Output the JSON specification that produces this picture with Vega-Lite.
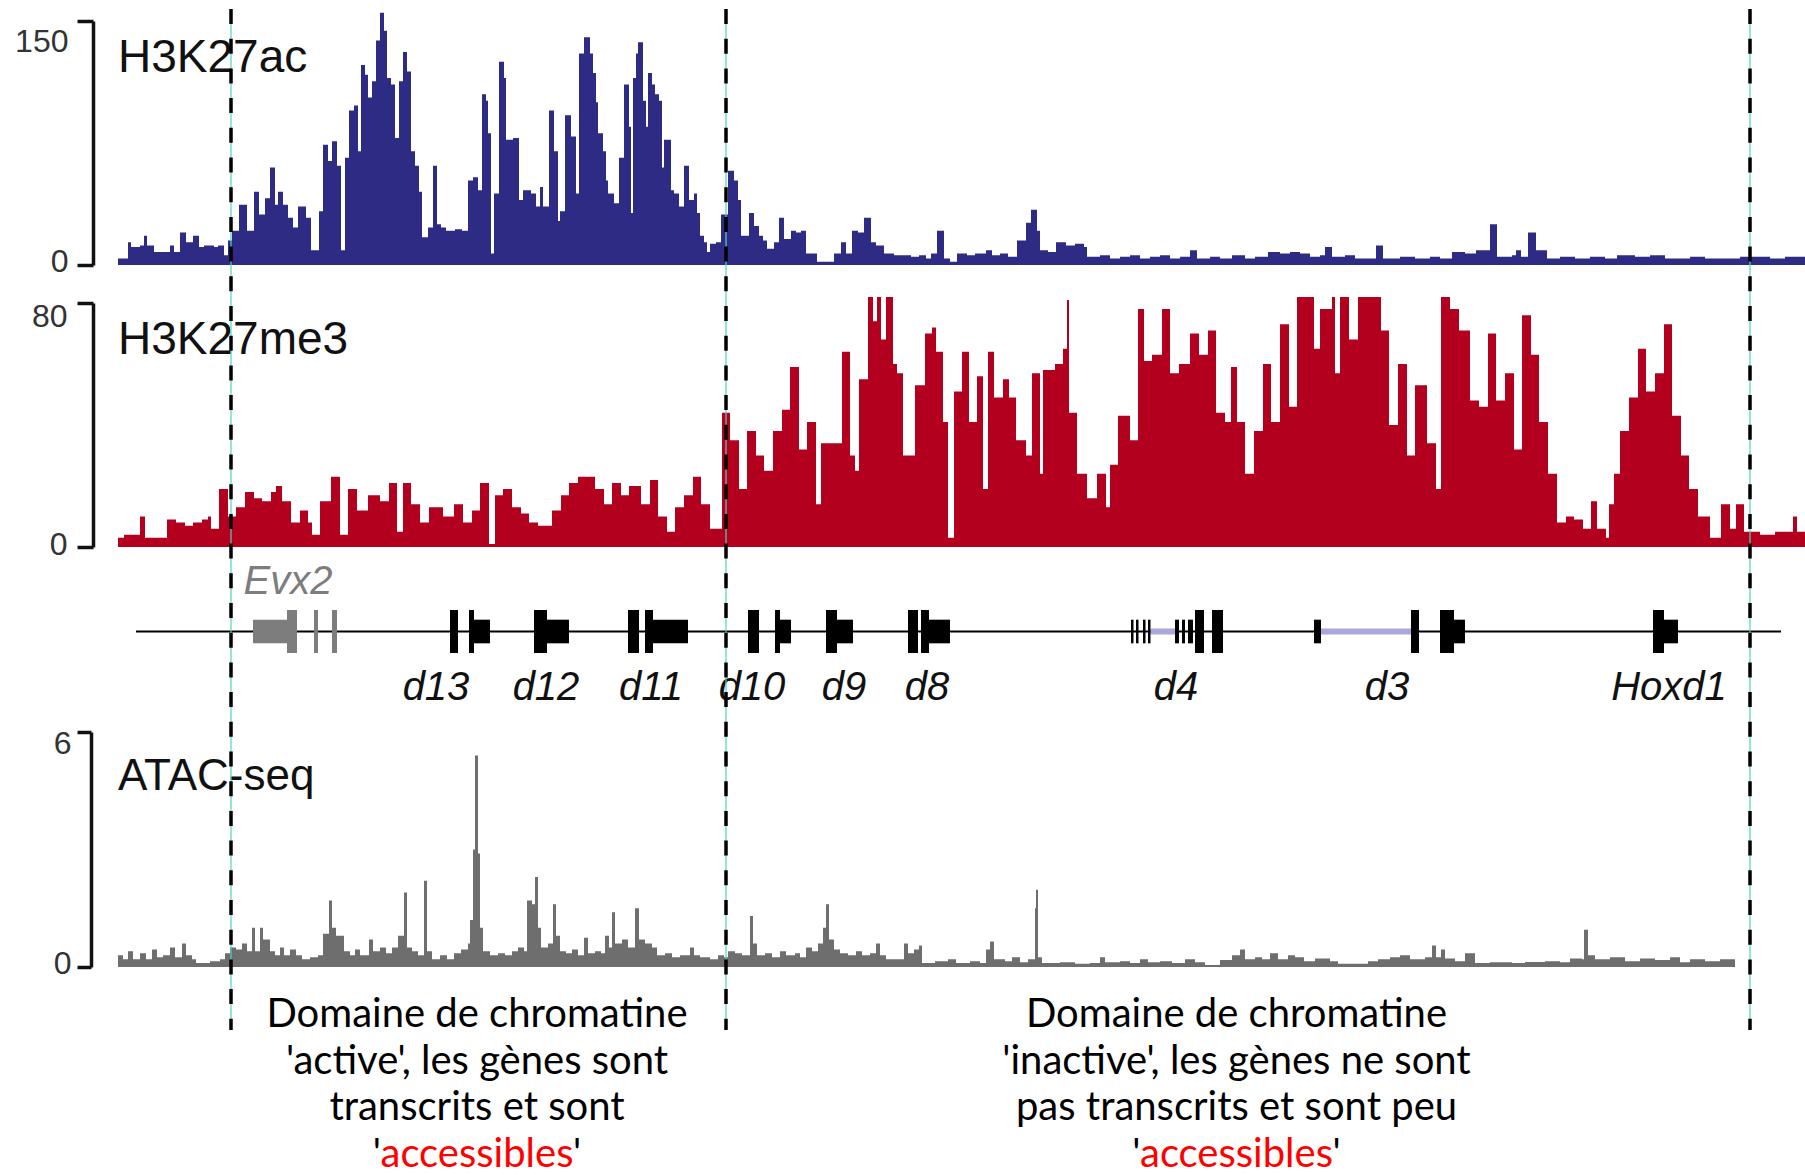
{
"$schema":"https://vega.github.io/schema/vega-lite/v6.json",
"width":1687,"height":1175,
"autosize":{"type":"none"},
"padding":{"left":118,"top":0,"right":0,"bottom":0},
"background":"white",
"config":{"view":{"stroke":null},"axis":{"grid":false}},
"resolve":{"scale":{"y":"independent"},"axis":{"y":"independent"}},
"datasets":{
"ac":[{"x":11.8,"v":4},{"x":12.4,"v":4},{"x":12.8,"v":14},{"x":13.1,"v":11},{"x":13.7,"v":11},{"x":14.0,"v":12},{"x":14.4,"v":18},{"x":14.7,"v":12},{"x":15.4,"v":8},{"x":16.0,"v":8},{"x":16.6,"v":8},{"x":17.0,"v":12},{"x":17.4,"v":8},{"x":18.0,"v":20},{"x":18.6,"v":14},{"x":19.3,"v":18},{"x":19.9,"v":11},{"x":20.4,"v":12},{"x":21.0,"v":12},{"x":21.4,"v":11},{"x":21.8,"v":12},{"x":22.4,"v":6},{"x":22.8,"v":15},{"x":23.2,"v":21},{"x":23.9,"v":37},{"x":24.7,"v":21},{"x":25.4,"v":45},{"x":25.9,"v":31},{"x":26.5,"v":41},{"x":27.0,"v":60},{"x":27.5,"v":37},{"x":27.8,"v":45},{"x":28.3,"v":37},{"x":28.8,"v":29},{"x":29.3,"v":23},{"x":29.8,"v":36},{"x":30.6,"v":29},{"x":31.1,"v":9},{"x":31.9,"v":33},{"x":32.3,"v":74},{"x":32.8,"v":64},{"x":33.2,"v":76},{"x":33.7,"v":61},{"x":34.1,"v":9},{"x":34.5,"v":66},{"x":34.9,"v":95},{"x":35.4,"v":98},{"x":35.8,"v":70},{"x":36.1,"v":123},{"x":36.5,"v":117},{"x":36.8,"v":103},{"x":37.2,"v":113},{"x":37.6,"v":138},{"x":38.0,"v":155},{"x":38.4,"v":144},{"x":38.7,"v":115},{"x":39.1,"v":111},{"x":39.5,"v":78},{"x":39.9,"v":113},{"x":40.3,"v":131},{"x":40.7,"v":119},{"x":41.1,"v":70},{"x":41.5,"v":61},{"x":41.9,"v":45},{"x":42.2,"v":17},{"x":42.8,"v":23},{"x":43.3,"v":61},{"x":43.7,"v":25},{"x":44.1,"v":23},{"x":44.6,"v":21},{"x":45.5,"v":22},{"x":46.2,"v":21},{"x":46.8,"v":52},{"x":47.3,"v":54},{"x":47.8,"v":46},{"x":48.2,"v":105},{"x":48.6,"v":101},{"x":48.8,"v":81},{"x":49.1,"v":7},{"x":49.4,"v":44},{"x":49.9,"v":125},{"x":50.4,"v":115},{"x":50.6,"v":77},{"x":51.3,"v":78},{"x":51.9,"v":40},{"x":52.3,"v":46},{"x":53.1,"v":44},{"x":53.6,"v":36},{"x":54.0,"v":48},{"x":54.3,"v":36},{"x":54.9,"v":95},{"x":55.4,"v":70},{"x":55.8,"v":27},{"x":56.0,"v":33},{"x":56.5,"v":92},{"x":57.1,"v":79},{"x":57.6,"v":44},{"x":57.9,"v":130},{"x":58.4,"v":140},{"x":59.0,"v":130},{"x":59.3,"v":118},{"x":59.6,"v":100},{"x":59.8,"v":81},{"x":60.3,"v":70},{"x":60.6,"v":52},{"x":60.8,"v":44},{"x":61.4,"v":38},{"x":61.9,"v":66},{"x":62.4,"v":111},{"x":62.9,"v":85},{"x":63.1,"v":32},{"x":63.3,"v":115},{"x":63.6,"v":130},{"x":63.8,"v":137},{"x":64.3,"v":101},{"x":64.6,"v":85},{"x":64.8,"v":118},{"x":65.2,"v":111},{"x":65.5,"v":105},{"x":65.9,"v":101},{"x":66.2,"v":60},{"x":66.4,"v":77},{"x":67.1,"v":46},{"x":67.4,"v":44},{"x":67.9,"v":36},{"x":68.4,"v":61},{"x":68.9,"v":40},{"x":69.4,"v":44},{"x":69.7,"v":32},{"x":70.0,"v":18},{"x":70.4,"v":14},{"x":70.7,"v":8},{"x":71.0,"v":13},{"x":71.6,"v":14},{"x":72.1,"v":31},{"x":72.8,"v":58},{"x":73.4,"v":52},{"x":73.8,"v":40},{"x":74.1,"v":18},{"x":74.9,"v":32},{"x":75.4,"v":24},{"x":75.9,"v":18},{"x":76.3,"v":15},{"x":76.7,"v":10},{"x":77.4,"v":14},{"x":77.9,"v":29},{"x":78.4,"v":16},{"x":79.1,"v":21},{"x":79.6,"v":20},{"x":80.1,"v":21},{"x":80.6,"v":7},{"x":81.7,"v":2},{"x":83.4,"v":7},{"x":84.1,"v":14},{"x":84.6,"v":7},{"x":85.2,"v":21},{"x":85.8,"v":20},{"x":86.4,"v":29},{"x":87.1,"v":14},{"x":87.6,"v":12},{"x":88.4,"v":7},{"x":89.4,"v":6},{"x":90.1,"v":6},{"x":91.1,"v":5},{"x":91.9,"v":6},{"x":92.6,"v":4},{"x":93.1,"v":7},{"x":93.7,"v":21},{"x":94.4,"v":4},{"x":95.0,"v":2},{"x":95.7,"v":7},{"x":96.7,"v":6},{"x":97.5,"v":7},{"x":98.6,"v":9},{"x":99.2,"v":6},{"x":100.0,"v":7},{"x":100.8,"v":5},{"x":101.7,"v":15},{"x":102.6,"v":26},{"x":103.1,"v":34},{"x":103.7,"v":21},{"x":104.0,"v":9},{"x":104.8,"v":8},{"x":105.6,"v":14},{"x":106.6,"v":12},{"x":107.5,"v":13},{"x":108.4,"v":11},{"x":108.7,"v":5},{"x":110.0,"v":6},{"x":111.0,"v":4},{"x":112.0,"v":5},{"x":113.0,"v":6},{"x":114.0,"v":4},{"x":115.0,"v":5},{"x":116.0,"v":6},{"x":117.0,"v":4},{"x":118.0,"v":5},{"x":119.0,"v":9},{"x":119.7,"v":4},{"x":121.0,"v":5},{"x":122.0,"v":4},{"x":123.2,"v":6},{"x":124.5,"v":4},{"x":125.5,"v":5},{"x":126.8,"v":8},{"x":128.0,"v":7},{"x":129.0,"v":8},{"x":130.0,"v":7},{"x":131.0,"v":5},{"x":132.0,"v":6},{"x":132.5,"v":11},{"x":133.2,"v":5},{"x":134.5,"v":6},{"x":135.5,"v":4},{"x":137.6,"v":12},{"x":138.3,"v":4},{"x":140.0,"v":5},{"x":141.5,"v":4},{"x":143.0,"v":5},{"x":144.0,"v":4},{"x":145.2,"v":8},{"x":146.5,"v":7},{"x":147.6,"v":9},{"x":149.0,"v":25},{"x":149.7,"v":5},{"x":151.2,"v":6},{"x":151.6,"v":9},{"x":152.1,"v":5},{"x":152.8,"v":20},{"x":153.6,"v":9},{"x":154.7,"v":4},{"x":156.0,"v":5},{"x":157.5,"v":4},{"x":159.0,"v":5},{"x":160.5,"v":4},{"x":161.7,"v":6},{"x":163.5,"v":5},{"x":165.0,"v":6},{"x":166.5,"v":4},{"x":169.0,"v":5},{"x":170.5,"v":4},{"x":172.5,"v":4},{"x":174.0,"v":5},{"x":175.5,"v":5},{"x":177.0,"v":4},{"x":178.5,"v":5},{"x":180.0,"v":5},{"x":180.5,"v":5}],
"me3":[{"x":11.8,"v":3},{"x":12.4,"v":4},{"x":14.0,"v":10},{"x":14.5,"v":3},{"x":15.8,"v":3},{"x":16.7,"v":9},{"x":17.6,"v":8},{"x":18.5,"v":7},{"x":19.3,"v":8},{"x":20.2,"v":9},{"x":20.8,"v":10},{"x":21.1,"v":6},{"x":21.9,"v":19},{"x":22.8,"v":10},{"x":23.6,"v":13},{"x":24.5,"v":18},{"x":25.4,"v":16},{"x":26.2,"v":15},{"x":27.1,"v":18},{"x":27.6,"v":20},{"x":28.2,"v":15},{"x":29.1,"v":8},{"x":30.0,"v":12},{"x":30.8,"v":8},{"x":31.2,"v":4},{"x":32.0,"v":15},{"x":33.1,"v":23},{"x":34.0,"v":4},{"x":34.8,"v":19},{"x":35.7,"v":12},{"x":36.8,"v":17},{"x":38.0,"v":15},{"x":38.9,"v":21},{"x":39.7,"v":5},{"x":40.3,"v":21},{"x":41.1,"v":14},{"x":42.0,"v":8},{"x":42.9,"v":13},{"x":44.3,"v":10},{"x":45.4,"v":14},{"x":46.3,"v":8},{"x":47.2,"v":12},{"x":48.0,"v":21},{"x":48.9,"v":1},{"x":49.5,"v":17},{"x":50.3,"v":19},{"x":51.2,"v":13},{"x":52.1,"v":11},{"x":52.9,"v":8},{"x":53.8,"v":7},{"x":55.2,"v":12},{"x":56.1,"v":17},{"x":56.9,"v":21},{"x":57.8,"v":23},{"x":59.5,"v":19},{"x":60.4,"v":14},{"x":61.2,"v":21},{"x":62.1,"v":17},{"x":62.9,"v":20},{"x":64.1,"v":14},{"x":65.0,"v":22},{"x":65.8,"v":10},{"x":66.7,"v":5},{"x":67.5,"v":13},{"x":68.4,"v":17},{"x":69.3,"v":23},{"x":70.1,"v":14},{"x":71.0,"v":6},{"x":72.2,"v":44},{"x":73.0,"v":35},{"x":73.9,"v":19},{"x":74.7,"v":38},{"x":75.6,"v":30},{"x":76.4,"v":25},{"x":77.3,"v":38},{"x":78.2,"v":45},{"x":79.0,"v":59},{"x":79.9,"v":32},{"x":80.7,"v":41},{"x":81.6,"v":14},{"x":82.1,"v":34},{"x":84.2,"v":64},{"x":85.0,"v":30},{"x":85.5,"v":25},{"x":85.9,"v":55},{"x":86.8,"v":82},{"x":87.3,"v":74},{"x":87.7,"v":82},{"x":88.1,"v":68},{"x":88.6,"v":82},{"x":89.3,"v":60},{"x":89.7,"v":57},{"x":90.0,"v":57},{"x":90.3,"v":30},{"x":91.5,"v":53},{"x":92.5,"v":70},{"x":93.2,"v":72},{"x":93.6,"v":64},{"x":94.3,"v":41},{"x":94.8,"v":3},{"x":95.4,"v":51},{"x":96.2,"v":64},{"x":96.9,"v":41},{"x":97.7,"v":56},{"x":98.3,"v":19},{"x":98.8,"v":64},{"x":99.4,"v":49},{"x":100.3,"v":55},{"x":100.9,"v":49},{"x":101.6,"v":35},{"x":102.6,"v":30},{"x":103.2,"v":57},{"x":104.0,"v":24},{"x":104.3,"v":58},{"x":105.5,"v":60},{"x":106.3,"v":65},{"x":106.7,"v":81},{"x":106.9,"v":44},{"x":107.7,"v":24},{"x":108.7,"v":16},{"x":109.7,"v":24},{"x":110.6,"v":13},{"x":111.0,"v":27},{"x":111.8,"v":43},{"x":113.0,"v":35},{"x":113.8,"v":78},{"x":114.4,"v":61},{"x":115.2,"v":63},{"x":116.2,"v":78},{"x":117.0,"v":57},{"x":117.9,"v":60},{"x":119.0,"v":70},{"x":119.9,"v":63},{"x":120.8,"v":71},{"x":121.6,"v":44},{"x":122.5,"v":41},{"x":123.1,"v":59},{"x":123.7,"v":41},{"x":124.5,"v":24},{"x":125.4,"v":38},{"x":126.3,"v":60},{"x":127.1,"v":41},{"x":128.0,"v":73},{"x":128.9,"v":46},{"x":129.7,"v":82},{"x":131.4,"v":65},{"x":132.0,"v":78},{"x":133.2,"v":82},{"x":133.5,"v":57},{"x":134.0,"v":82},{"x":134.9,"v":68},{"x":135.8,"v":82},{"x":138.1,"v":71},{"x":138.9,"v":40},{"x":139.8,"v":60},{"x":140.7,"v":30},{"x":141.5,"v":53},{"x":142.7,"v":34},{"x":143.6,"v":19},{"x":144.1,"v":82},{"x":145.0,"v":78},{"x":145.9,"v":71},{"x":147.0,"v":48},{"x":147.9,"v":46},{"x":148.8,"v":70},{"x":149.6,"v":48},{"x":150.5,"v":57},{"x":151.4,"v":32},{"x":152.2,"v":76},{"x":153.1,"v":63},{"x":153.9,"v":41},{"x":154.8,"v":24},{"x":155.7,"v":8},{"x":156.6,"v":10},{"x":157.4,"v":9},{"x":158.3,"v":6},{"x":159.1,"v":15},{"x":159.7,"v":6},{"x":160.6,"v":3},{"x":160.9,"v":14},{"x":161.4,"v":24},{"x":162.0,"v":38},{"x":162.9,"v":49},{"x":163.8,"v":65},{"x":164.6,"v":51},{"x":165.5,"v":57},{"x":166.4,"v":73},{"x":167.2,"v":43},{"x":168.1,"v":30},{"x":168.9,"v":19},{"x":169.8,"v":10},{"x":171.0,"v":3},{"x":172.1,"v":14},{"x":173.0,"v":6},{"x":173.6,"v":14},{"x":174.4,"v":5},{"x":176.0,"v":4},{"x":177.5,"v":5},{"x":179.3,"v":10},{"x":179.7,"v":5},{"x":180.5,"v":5}],
"atac":[{"x":11.8,"v":0.3},{"x":12.3,"v":0.2},{"x":12.8,"v":0.4},{"x":13.3,"v":0.2},{"x":14.0,"v":0.35},{"x":14.6,"v":0.2},{"x":15.2,"v":0.45},{"x":15.7,"v":0.25},{"x":16.3,"v":0.3},{"x":17.0,"v":0.5},{"x":17.5,"v":0.25},{"x":18.2,"v":0.6},{"x":18.6,"v":0.3},{"x":19.2,"v":0.2},{"x":19.6,"v":0.1},{"x":21.0,"v":0.15},{"x":22.0,"v":0.2},{"x":22.5,"v":0.35},{"x":23.0,"v":0.5},{"x":23.6,"v":0.45},{"x":24.2,"v":0.6},{"x":24.7,"v":0.4},{"x":25.2,"v":1.0},{"x":25.5,"v":0.4},{"x":26.0,"v":1.0},{"x":26.3,"v":0.7},{"x":27.0,"v":0.4},{"x":27.5,"v":0.3},{"x":28.0,"v":0.5},{"x":28.4,"v":0.3},{"x":29.0,"v":0.45},{"x":29.6,"v":0.3},{"x":30.2,"v":0.2},{"x":31.0,"v":0.25},{"x":31.8,"v":0.3},{"x":32.3,"v":0.85},{"x":32.9,"v":1.7},{"x":33.2,"v":1.0},{"x":33.6,"v":0.8},{"x":34.4,"v":0.4},{"x":35.0,"v":0.3},{"x":35.5,"v":0.45},{"x":36.0,"v":0.3},{"x":36.9,"v":0.7},{"x":37.3,"v":0.4},{"x":38.0,"v":0.5},{"x":38.6,"v":0.35},{"x":39.2,"v":0.5},{"x":39.8,"v":0.8},{"x":40.4,"v":1.9},{"x":40.7,"v":0.5},{"x":41.2,"v":0.4},{"x":41.8,"v":0.3},{"x":42.4,"v":2.2},{"x":42.7,"v":0.4},{"x":43.2,"v":0.2},{"x":44.0,"v":0.3},{"x":44.7,"v":0.2},{"x":45.4,"v":0.35},{"x":46.1,"v":0.45},{"x":46.8,"v":0.6},{"x":47.0,"v":1.2},{"x":47.3,"v":3.0},{"x":47.5,"v":5.4},{"x":47.8,"v":2.9},{"x":48.0,"v":1.0},{"x":48.3,"v":0.4},{"x":49.0,"v":0.3},{"x":49.8,"v":0.35},{"x":50.5,"v":0.3},{"x":51.2,"v":0.4},{"x":51.8,"v":0.5},{"x":52.4,"v":0.4},{"x":52.7,"v":1.7},{"x":53.2,"v":1.6},{"x":53.5,"v":2.3},{"x":53.8,"v":1.0},{"x":54.1,"v":0.5},{"x":54.8,"v":0.6},{"x":55.3,"v":1.6},{"x":55.6,"v":0.8},{"x":56.0,"v":0.4},{"x":56.6,"v":0.35},{"x":57.2,"v":0.45},{"x":57.8,"v":0.3},{"x":58.4,"v":0.75},{"x":58.8,"v":0.35},{"x":59.5,"v":0.4},{"x":60.1,"v":0.35},{"x":60.5,"v":0.8},{"x":60.9,"v":0.5},{"x":61.2,"v":1.4},{"x":61.5,"v":0.6},{"x":62.2,"v":0.7},{"x":62.8,"v":0.5},{"x":63.5,"v":1.5},{"x":63.9,"v":0.7},{"x":64.5,"v":0.6},{"x":65.2,"v":0.5},{"x":65.7,"v":0.3},{"x":66.5,"v":0.35},{"x":67.2,"v":0.25},{"x":68.0,"v":0.3},{"x":69.0,"v":0.5},{"x":69.4,"v":0.3},{"x":70.0,"v":0.25},{"x":71.0,"v":0.2},{"x":71.8,"v":0.3},{"x":72.4,"v":0.25},{"x":72.8,"v":0.4},{"x":73.5,"v":0.35},{"x":74.2,"v":0.3},{"x":75.0,"v":1.3},{"x":75.3,"v":0.6},{"x":75.7,"v":0.3},{"x":76.5,"v":0.35},{"x":77.2,"v":0.25},{"x":78.0,"v":0.4},{"x":78.6,"v":0.3},{"x":79.5,"v":0.35},{"x":80.0,"v":0.25},{"x":80.6,"v":0.5},{"x":81.2,"v":0.4},{"x":81.8,"v":0.6},{"x":82.3,"v":1.0},{"x":82.6,"v":1.6},{"x":82.9,"v":0.7},{"x":83.4,"v":0.45},{"x":84.0,"v":0.35},{"x":84.8,"v":0.3},{"x":85.6,"v":0.4},{"x":86.2,"v":0.3},{"x":87.0,"v":0.35},{"x":87.6,"v":0.6},{"x":88.0,"v":0.3},{"x":88.6,"v":0.2},{"x":89.5,"v":0.2},{"x":90.4,"v":0.6},{"x":90.8,"v":0.35},{"x":91.4,"v":0.45},{"x":91.9,"v":0.55},{"x":92.2,"v":0.1},{"x":93.5,"v":0.15},{"x":94.8,"v":0.2},{"x":95.6,"v":0.1},{"x":97.0,"v":0.15},{"x":98.0,"v":0.1},{"x":98.6,"v":0.45},{"x":99.0,"v":0.65},{"x":99.4,"v":0.2},{"x":100.5,"v":0.15},{"x":101.2,"v":0.25},{"x":102.0,"v":0.12},{"x":102.8,"v":0.2},{"x":103.5,"v":1.5},{"x":103.6,"v":1.97},{"x":103.8,"v":0.25},{"x":104.2,"v":0.1},{"x":106.0,"v":0.12},{"x":107.5,"v":0.08},{"x":109.0,"v":0.1},{"x":110.0,"v":0.25},{"x":110.5,"v":0.12},{"x":112.0,"v":0.15},{"x":113.0,"v":0.1},{"x":114.0,"v":0.2},{"x":114.8,"v":0.12},{"x":116.0,"v":0.15},{"x":117.2,"v":0.1},{"x":118.5,"v":0.2},{"x":119.5,"v":0.12},{"x":120.5,"v":0.05},{"x":122.0,"v":0.18},{"x":123.2,"v":0.3},{"x":124.0,"v":0.45},{"x":124.5,"v":0.2},{"x":125.5,"v":0.25},{"x":126.2,"v":0.2},{"x":127.0,"v":0.35},{"x":127.8,"v":0.2},{"x":128.8,"v":0.3},{"x":129.5,"v":0.25},{"x":130.4,"v":0.15},{"x":131.5,"v":0.22},{"x":133.0,"v":0.15},{"x":133.8,"v":0.08},{"x":136.8,"v":0.15},{"x":137.8,"v":0.2},{"x":139.0,"v":0.25},{"x":140.0,"v":0.3},{"x":141.0,"v":0.2},{"x":142.5,"v":0.25},{"x":143.2,"v":0.55},{"x":143.6,"v":0.25},{"x":144.1,"v":0.45},{"x":144.5,"v":0.22},{"x":145.5,"v":0.15},{"x":146.5,"v":0.35},{"x":147.5,"v":0.1},{"x":149.0,"v":0.12},{"x":151.2,"v":0.1},{"x":152.5,"v":0.13},{"x":154.5,"v":0.15},{"x":156.0,"v":0.12},{"x":157.0,"v":0.22},{"x":158.2,"v":0.2},{"x":158.4,"v":0.95},{"x":158.8,"v":0.3},{"x":159.5,"v":0.2},{"x":161.0,"v":0.25},{"x":162.5,"v":0.15},{"x":164.0,"v":0.22},{"x":165.5,"v":0.18},{"x":167.0,"v":0.25},{"x":168.0,"v":0.12},{"x":169.0,"v":0.2},{"x":170.5,"v":0.15},{"x":172.0,"v":0.2},{"x":173.5,"v":0.15}],
"exons":[
{"gene":"Evx2","s":25.3,"e":28.7,"k":"m"},{"gene":"Evx2","s":28.7,"e":29.7,"k":"t"},{"gene":"Evx2","s":31.4,"e":31.8,"k":"t"},{"gene":"Evx2","s":33.2,"e":33.7,"k":"t"},
{"gene":"d13","s":45.0,"e":45.8,"k":"t"},{"gene":"d13","s":46.9,"e":47.4,"k":"t"},{"gene":"d13","s":47.4,"e":49.0,"k":"m"},
{"gene":"d12","s":53.4,"e":54.7,"k":"t"},{"gene":"d12","s":54.7,"e":56.9,"k":"m"},
{"gene":"d11","s":62.8,"e":63.9,"k":"t"},{"gene":"d11","s":64.5,"e":65.3,"k":"t"},{"gene":"d11","s":65.3,"e":68.8,"k":"m"},
{"gene":"d10","s":74.8,"e":75.9,"k":"t"},{"gene":"d10","s":77.5,"e":78.0,"k":"t"},{"gene":"d10","s":78.0,"e":79.1,"k":"m"},
{"gene":"d9","s":82.6,"e":83.7,"k":"t"},{"gene":"d9","s":83.7,"e":85.3,"k":"m"},
{"gene":"d8","s":90.8,"e":91.8,"k":"t"},{"gene":"d8","s":92.1,"e":92.9,"k":"t"},{"gene":"d8","s":92.9,"e":95.0,"k":"m"},
{"gene":"d4","s":113.1,"e":113.35,"k":"m"},{"gene":"d4","s":113.6,"e":113.85,"k":"m"},{"gene":"d4","s":114.3,"e":114.55,"k":"m"},{"gene":"d4","s":114.8,"e":115.05,"k":"m"},{"gene":"d4","s":115.05,"e":117.5,"k":"i"},{"gene":"d4","s":117.5,"e":117.9,"k":"m"},{"gene":"d4","s":118.2,"e":118.5,"k":"m"},{"gene":"d4","s":118.8,"e":119.3,"k":"m"},{"gene":"d4","s":119.5,"e":120.4,"k":"t"},{"gene":"d4","s":121.2,"e":122.3,"k":"t"},
{"gene":"d3","s":131.4,"e":132.1,"k":"m"},{"gene":"d3","s":132.1,"e":141.1,"k":"i"},{"gene":"d3","s":141.1,"e":141.9,"k":"t"},{"gene":"d3","s":144.0,"e":145.4,"k":"t"},{"gene":"d3","s":145.4,"e":146.5,"k":"m"},
{"gene":"Hoxd1","s":165.3,"e":166.4,"k":"t"},{"gene":"Hoxd1","s":166.4,"e":167.8,"k":"m"}],
"genelabels":[{"gene":"d13","mid":43.6},{"gene":"d12","mid":54.6},{"gene":"d11","mid":65.1},{"gene":"d10","mid":75.2},{"gene":"d9","mid":84.4},{"gene":"d8","mid":92.7},{"gene":"d4","mid":117.6},{"gene":"d3","mid":138.7},{"gene":"Hoxd1","mid":166.9}],
"leftText":[{"line":1,"t":"Domaine de chromatine"},{"line":2,"t":"'active', les gènes sont"},{"line":3,"t":"transcrits et sont"}],
"rightText":[{"line":1,"t":"Domaine de chromatine"},{"line":2,"t":"'inactive', les gènes ne sont"},{"line":3,"t":"pas transcrits et sont peu"}],
"lastLine":[{"line":4,"t":"accessibles","side":47.7},{"line":4,"t":"accessibles","side":123.65}]
},
"layer":[
{"data":{"name":"ac"},
 "layer":[
  {"mark":{"type":"area","interpolate":"step-after","color":"#2e2b84"},
   "encoding":{"x":{"field":"x","type":"quantitative","scale":{"domain":[11.8,180.5]},"axis":null},
    "y":{"field":"v","type":"quantitative","scale":{"domain":[0,150],"range":[265,21]},
     "axis":{"orient":"left","values":[0,150],"format":"d","offset":25,"domainColor":"#111","domainWidth":3.5,"tickSize":16,"tickWidth":3.5,"tickColor":"#111","labelFont":"Liberation Sans","labelFontSize":32,"labelColor":"#333","labelPadding":9,"labelBaseline":"middle","labelOffset":{"condition":{"test":"datum.value > 0","value":20},"value":-4},"title":null,"grid":false,"labelFlush":false,"labelOverlap":false}}}},
  {"data":{"values":[{"t":"H3K27ac"}]},
   "mark":{"type":"text","align":"left","baseline":"alphabetic","font":"Liberation Sans","fontSize":46,"color":"#111"},
   "encoding":{"x":{"datum":11.8,"type":"quantitative","scale":{"domain":[11.8,180.5]},"axis":null},
    "y":{"datum":118.6,"type":"quantitative","scale":{"domain":[0,150],"range":[265,21]}},
    "text":{"field":"t"}}}
 ]},
{"data":{"name":"me3"},
 "layer":[
  {"mark":{"type":"area","interpolate":"step-after","color":"#b3001f"},
   "encoding":{"x":{"field":"x","type":"quantitative","scale":{"domain":[11.8,180.5]},"axis":null},
    "y":{"field":"v","type":"quantitative","scale":{"domain":[0,80],"range":[547,303]},
     "axis":{"orient":"left","values":[0,80],"format":"d","offset":25,"domainColor":"#111","domainWidth":3.5,"tickSize":16,"tickWidth":3.5,"tickColor":"#111","labelFont":"Liberation Sans","labelFontSize":32,"labelColor":"#333","labelPadding":10,"labelBaseline":"middle","labelOffset":{"condition":{"test":"datum.value > 0","value":13},"value":-3},"title":null,"grid":false,"labelFlush":false,"labelOverlap":false}}}},
  {"data":{"values":[{"t":"H3K27me3"}]},
   "mark":{"type":"text","align":"left","baseline":"alphabetic","font":"Liberation Sans","fontSize":46,"color":"#111"},
   "encoding":{"x":{"datum":11.8,"type":"quantitative","scale":{"domain":[11.8,180.5]},"axis":null},
    "y":{"datum":63.3,"type":"quantitative","scale":{"domain":[0,80],"range":[547,303]}},
    "text":{"field":"t"}}}
 ]},
{"data":{"name":"exons"},
 "layer":[
  {"data":{"values":[{"a":0}]},
   "mark":{"type":"rule","color":"#000","strokeWidth":2},
   "encoding":{"x":{"datum":13.6,"type":"quantitative","scale":{"domain":[11.8,180.5]},"axis":null},"x2":{"datum":178.1},
    "y":{"datum":0,"type":"quantitative","scale":{"domain":[-1,1],"range":[653,610]},"axis":null}}},
  {"transform":[{"filter":"datum.k === 'i'"}],
   "mark":{"type":"rect","color":"#aaa8da"},
   "encoding":{"x":{"field":"s","type":"quantitative","scale":{"domain":[11.8,180.5]},"axis":null},"x2":{"field":"e"},
    "y":{"datum":0.14,"type":"quantitative","scale":{"domain":[-1,1],"range":[653,610]},"axis":null},"y2":{"datum":-0.14}}},
  {"transform":[{"filter":"datum.k === 'm'"}],
   "mark":{"type":"rect"},
   "encoding":{"x":{"field":"s","type":"quantitative","scale":{"domain":[11.8,180.5]},"axis":null},"x2":{"field":"e"},
    "y":{"datum":0.55,"type":"quantitative","scale":{"domain":[-1,1],"range":[653,610]},"axis":null},"y2":{"datum":-0.55},
    "color":{"condition":{"test":"datum.gene === 'Evx2'","value":"#7d7d7d"},"value":"#000"}}},
  {"transform":[{"filter":"datum.k === 't'"}],
   "mark":{"type":"rect"},
   "encoding":{"x":{"field":"s","type":"quantitative","scale":{"domain":[11.8,180.5]},"axis":null},"x2":{"field":"e"},
    "y":{"datum":1,"type":"quantitative","scale":{"domain":[-1,1],"range":[653,610]},"axis":null},"y2":{"datum":-1},
    "color":{"condition":{"test":"datum.gene === 'Evx2'","value":"#7d7d7d"},"value":"#000"}}},
  {"data":{"name":"genelabels"},
   "mark":{"type":"text","align":"center","baseline":"middle","font":"Liberation Sans","fontSize":40,"fontStyle":"italic","color":"#111"},
   "encoding":{"x":{"field":"mid","type":"quantitative","scale":{"domain":[11.8,180.5]},"axis":null},
    "y":{"datum":-2.63,"type":"quantitative","scale":{"domain":[-1,1],"range":[653,610]},"axis":null},
    "text":{"field":"gene"}}},
  {"data":{"values":[{"gene":"Evx2"}]},
   "mark":{"type":"text","align":"center","baseline":"middle","font":"Liberation Sans","fontSize":40,"fontStyle":"italic","color":"#7d7d7d"},
   "encoding":{"x":{"datum":28.8,"type":"quantitative","scale":{"domain":[11.8,180.5]},"axis":null},
    "y":{"datum":2.3,"type":"quantitative","scale":{"domain":[-1,1],"range":[653,610]},"axis":null},
    "text":{"field":"gene"}}}
 ]},
{"data":{"name":"atac"},
 "layer":[
  {"mark":{"type":"area","interpolate":"step-after","color":"#6e6e6e"},
   "encoding":{"x":{"field":"x","type":"quantitative","scale":{"domain":[11.8,180.5]},"axis":null},
    "y":{"field":"v","type":"quantitative","scale":{"domain":[0,6],"range":[967,732]},
     "axis":{"orient":"left","values":[0,6],"format":"d","offset":27,"domainColor":"#111","domainWidth":3.5,"tickSize":14,"tickWidth":3.5,"tickColor":"#111","labelFont":"Liberation Sans","labelFontSize":32,"labelColor":"#333","labelPadding":6,"labelBaseline":"middle","labelOffset":{"condition":{"test":"datum.value > 0","value":11},"value":-4},"title":null,"grid":false,"labelFlush":false,"labelOverlap":false}}}},
  {"data":{"values":[{"t":"ATAC-seq"}]},
   "mark":{"type":"text","align":"left","baseline":"alphabetic","font":"Liberation Sans","fontSize":44,"color":"#111"},
   "encoding":{"x":{"datum":11.8,"type":"quantitative","scale":{"domain":[11.8,180.5]},"axis":null},
    "y":{"datum":4.52,"type":"quantitative","scale":{"domain":[0,6],"range":[967,732]}},
    "text":{"field":"t"}}}
 ]},
{"layer":[
  {"data":{"name":"leftText"},
   "mark":{"type":"text","align":"center","baseline":"middle","font":"Lato","fontSize":40,"color":"#000"},
   "encoding":{"x":{"datum":47.7,"type":"quantitative","scale":{"domain":[11.8,180.5]},"axis":null},
    "y":{"field":"line","type":"quantitative","scale":{"domain":[1,4],"range":[1015,1155]},"axis":null},
    "text":{"field":"t"}}},
  {"data":{"name":"rightText"},
   "mark":{"type":"text","align":"center","baseline":"middle","font":"Lato","fontSize":40,"color":"#000"},
   "encoding":{"x":{"datum":123.65,"type":"quantitative","scale":{"domain":[11.8,180.5]},"axis":null},
    "y":{"field":"line","type":"quantitative","scale":{"domain":[1,4],"range":[1015,1155]},"axis":null},
    "text":{"field":"t"}}},
  {"data":{"name":"lastLine"},
   "mark":{"type":"text","align":"center","baseline":"middle","font":"Lato","fontSize":40,"color":"#ff0000"},
   "encoding":{"x":{"field":"side","type":"quantitative","scale":{"domain":[11.8,180.5]},"axis":null},
    "y":{"field":"line","type":"quantitative","scale":{"domain":[1,4],"range":[1015,1155]},"axis":null},
    "text":{"field":"t"}}},
  {"data":{"name":"lastLine"},
   "mark":{"type":"text","align":"right","baseline":"middle","font":"Lato","fontSize":40,"color":"#000","dx":-96},
   "encoding":{"x":{"field":"side","type":"quantitative","scale":{"domain":[11.8,180.5]},"axis":null},
    "y":{"field":"line","type":"quantitative","scale":{"domain":[1,4],"range":[1015,1155]},"axis":null},
    "text":{"value":"'"}}},
  {"data":{"name":"lastLine"},
   "mark":{"type":"text","align":"left","baseline":"middle","font":"Lato","fontSize":40,"color":"#000","dx":96},
   "encoding":{"x":{"field":"side","type":"quantitative","scale":{"domain":[11.8,180.5]},"axis":null},
    "y":{"field":"line","type":"quantitative","scale":{"domain":[1,4],"range":[1015,1155]},"axis":null},
    "text":{"value":"'"}}}
 ]},
{"data":{"values":[{"x":23.1},{"x":72.6},{"x":175.0}]},
 "layer":[
  {"mark":{"type":"rule","color":"#4fd6bb","strokeWidth":1.2},
   "encoding":{"x":{"field":"x","type":"quantitative","scale":{"domain":[11.8,180.5]},"axis":null},
    "y":{"datum":1,"type":"quantitative","scale":{"domain":[0,1],"range":[1030,9]},"axis":null},"y2":{"datum":0}}},
  {"mark":{"type":"rule","color":"#000","strokeWidth":3.5,"strokeDash":[15,14.7]},
   "encoding":{"x":{"field":"x","type":"quantitative","scale":{"domain":[11.8,180.5]},"axis":null},
    "y":{"datum":1,"type":"quantitative","scale":{"domain":[0,1],"range":[1030,9]},"axis":null},"y2":{"datum":0}}}
 ]}
]
}
